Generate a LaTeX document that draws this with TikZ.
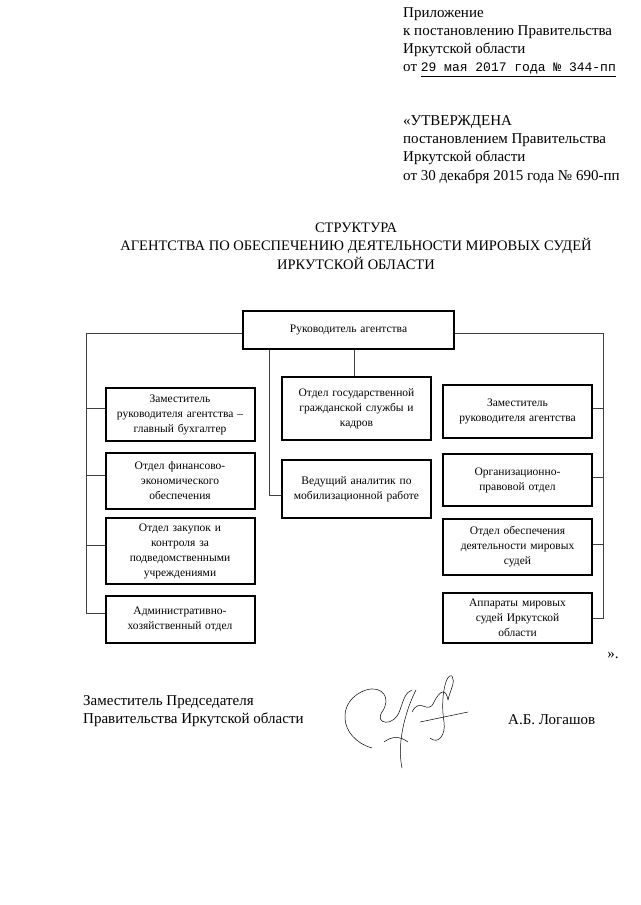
\documentclass[tikz,border=0pt]{standalone}
\usepackage{fontspec}
\setmainfont{Liberation Serif}
\setmonofont{Liberation Mono}
\usetikzlibrary{positioning}

\newcommand{\doctext}{\fontsize{15}{18.3}\selectfont}
\newcommand{\boxtext}{\fontsize{11.5}{15}\selectfont}

\begin{document}
\begin{tikzpicture}[x=1pt, y=-1pt,
  box/.style={
    rectangle, draw, line width=2pt,
    minimum width=149pt, text width=140pt, align=center,
    font=\boxtext, inner sep=2pt
  },
  link/.style={draw=black!75, line width=0.6pt},
  doc/.style={font=\doctext, align=left, inner sep=0pt, anchor=north west},
  sig/.style={line width=0.5pt, line cap=round, line join=round}
]
  \useasboundingbox (0,0) rectangle (640,905);

  % header
  \node[doc] (appx) at (403,7) {Приложение\\
    к постановлению Правительства\\
    Иркутской области\\
    от \underline{\texttt{\fontsize{13}{18.3}\selectfont 29 мая 2017 года № 344-пп}}};
  \node[doc] (appr) at (403,115) {«УТВЕРЖДЕНА\\
    постановлением Правительства\\
    Иркутской области\\
    от 30 декабря 2015 года № 690-пп};

  \node[font=\fontsize{14.5}{18.5}\selectfont, align=center] (title) at (356,246)
    {СТРУКТУРА\\
     АГЕНТСТВА ПО ОБЕСПЕЧЕНИЮ ДЕЯТЕЛЬНОСТИ МИРОВЫХ СУДЕЙ\\
     ИРКУТСКОЙ ОБЛАСТИ};

  % boxes
  \node[box, minimum width=211pt, text width=200pt, minimum height=38pt] (head) at (348.5,330) {Руководитель агентства};

  \node[box, minimum height=53pt] (zam1) at (180,414.5) {Заместитель\\руководителя агентства --\\главный бухгалтер};
  \node[box, minimum height=56pt] (fin) at (180,481) {Отдел финансово-\\экономического\\обеспечения};
  \node[box, minimum height=66pt] (zak) at (180,551) {Отдел закупок и\\контроля за\\подведомственными\\учреждениями};
  \node[box, minimum height=47pt] (ahd) at (180,619.5) {Административно-\\хозяйственный отдел};

  \node[box, minimum height=63pt] (kadr) at (356.5,408.5) {Отдел государственной\\гражданской службы и\\кадров};
  \node[box, minimum height=58pt] (mob) at (356.5,489) {Ведущий аналитик по\\мобилизационной работе};

  \node[box, minimum height=53pt] (zam2) at (517.5,411.5) {Заместитель\\руководителя агентства};
  \node[box, minimum height=52pt] (orp) at (517.5,480) {Организационно-\\правовой отдел};
  \node[box, minimum height=56pt] (oms) at (517.5,547) {Отдел обеспечения\\деятельности мировых\\судей};
  \node[box, minimum height=50pt] (apm) at (517.5,618) {Аппараты мировых\\судей Иркутской\\области};

  % buses
  \coordinate (lbus) at (86,333);
  \coordinate (rbus) at (603,333);
  \coordinate (cbus) at (269,495);

  \draw[link] ([yshift=-3pt]head.west) -- (lbus) |- ([yshift=6pt]ahd.west);
  \foreach \b in {zam1,fin,zak}
    \draw[link] ([yshift=6pt]\b.west) -- ([yshift=6pt]\b.west -| lbus);
  \draw[link] ([yshift=-3pt]head.east) -- (rbus) |- (apm.east);
  \foreach \b in {zam2,orp,oms}
    \draw[link] ([yshift=3pt]\b.east) -- ([yshift=3pt]\b.east -| rbus);
  \draw[link] (kadr.north -| 354,0) -- (head.south -| 354,0);
  \draw[link] (head.south -| cbus) |- (cbus) -- (cbus -| mob.west);

  \node[font=\doctext, inner sep=0pt] (quote) at (613,655) {».};

  % signature block
  \node[doc, anchor=west] (post) at (83,711) {Заместитель Председателя\\Правительства Иркутской области};
  \node[font=\doctext, inner sep=0pt, anchor=west] (name) at (508,720) {А.Б. Логашов};

  \draw[sig] (372,748) .. controls (338,738) and (336,700) .. (366,690)
    .. controls (382,685) and (392,698) .. (382,712)
    .. controls (374,724) and (394,728) .. (400,710)
    .. controls (404,698) and (406,692) .. (412,690);
  \draw[sig] (402,768) .. controls (396,740) and (408,705) .. (416,690);
  \draw[sig] (412,712) .. controls (420,696) and (428,716) .. (434,702)
    .. controls (440,690) and (446,688) .. (448,700)
    .. controls (450,690) and (456,682) .. (452,676)
    .. controls (446,672) and (440,698) .. (444,722)
    .. controls (446,735) and (438,745) .. (430,738);
  \draw[sig] (420,722) -- (468,712);
  \draw[sig] (384,742) .. controls (392,736) and (400,736) .. (408,742);
\end{tikzpicture}
\end{document}
